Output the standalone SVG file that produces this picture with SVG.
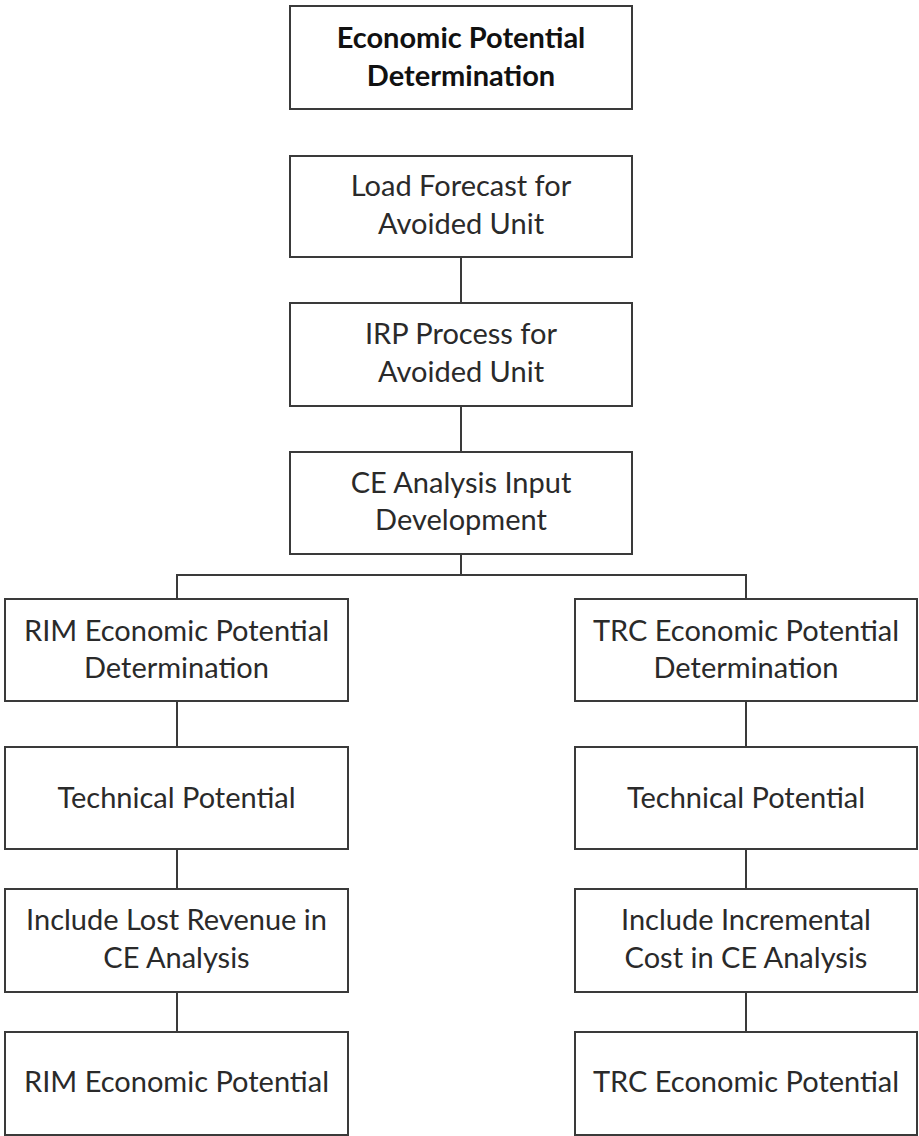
<svg xmlns="http://www.w3.org/2000/svg" width="919" height="1136" viewBox="0 0 919 1136">
  <style>
    .box { fill: #ffffff; stroke: #3a3a3a; stroke-width: 2; }
    .lbl { font-family: Lato, "Open Sans", "Liberation Sans", sans-serif; font-size: 29px; fill: #2a2a2a; text-anchor: middle; }
    .bold { font-weight: bold; font-size: 29px; fill: #111111; }
    .conn { fill: none; stroke: #3a3a3a; stroke-width: 2; }
  </style>
  <rect width="919" height="1136" fill="#ffffff"/>

  <g id="connectors">
    <line class="conn" x1="461" y1="257" x2="461" y2="303"/>
    <line class="conn" x1="461" y1="406" x2="461" y2="452"/>
    <line class="conn" x1="461" y1="554" x2="461" y2="575"/>
    <polyline class="conn" points="177,599 177,575 746,575 746,599"/>
    <line class="conn" x1="177" y1="701" x2="177" y2="747"/>
    <line class="conn" x1="177" y1="849" x2="177" y2="889"/>
    <line class="conn" x1="177" y1="992" x2="177" y2="1032"/>
    <line class="conn" x1="746" y1="701" x2="746" y2="747"/>
    <line class="conn" x1="746" y1="849" x2="746" y2="889"/>
    <line class="conn" x1="746" y1="992" x2="746" y2="1032"/>
  </g>

  <g id="title">
    <rect class="box" x="290" y="6" width="342" height="103"/>
    <text class="lbl bold" x="461" y="48">Economic Potential</text>
    <text class="lbl bold" x="461" y="86">Determination</text>
  </g>

  <g id="load-forecast">
    <rect class="box" x="290" y="156" width="342" height="101"/>
    <text class="lbl" x="461" y="196">Load Forecast for</text>
    <text class="lbl" x="461" y="234">Avoided Unit</text>
  </g>

  <g id="irp-process">
    <rect class="box" x="290" y="303" width="342" height="103"/>
    <text class="lbl" x="461" y="344">IRP Process for</text>
    <text class="lbl" x="461" y="382">Avoided Unit</text>
  </g>

  <g id="ce-input">
    <rect class="box" x="290" y="452" width="342" height="102"/>
    <text class="lbl" x="461" y="493">CE Analysis Input</text>
    <text class="lbl" x="461" y="530">Development</text>
  </g>

  <g id="rim-determination">
    <rect class="box" x="5" y="599" width="343" height="102"/>
    <text class="lbl" x="176.5" y="641">RIM Economic Potential</text>
    <text class="lbl" x="176.5" y="678">Determination</text>
  </g>

  <g id="trc-determination">
    <rect class="box" x="575" y="599" width="342" height="102"/>
    <text class="lbl" x="746" y="641">TRC Economic Potential</text>
    <text class="lbl" x="746" y="678">Determination</text>
  </g>

  <g id="rim-technical">
    <rect class="box" x="5" y="747" width="343" height="102"/>
    <text class="lbl" x="176.5" y="808">Technical Potential</text>
  </g>

  <g id="trc-technical">
    <rect class="box" x="575" y="747" width="342" height="102"/>
    <text class="lbl" x="746" y="808">Technical Potential</text>
  </g>

  <g id="rim-lost-revenue">
    <rect class="box" x="5" y="889" width="343" height="103"/>
    <text class="lbl" x="176.5" y="930">Include Lost Revenue in</text>
    <text class="lbl" x="176.5" y="968">CE Analysis</text>
  </g>

  <g id="trc-incremental-cost">
    <rect class="box" x="575" y="889" width="342" height="103"/>
    <text class="lbl" x="746" y="930">Include Incremental</text>
    <text class="lbl" x="746" y="968">Cost in CE Analysis</text>
  </g>

  <g id="rim-potential">
    <rect class="box" x="5" y="1032" width="343" height="103"/>
    <text class="lbl" x="176.5" y="1092">RIM Economic Potential</text>
  </g>

  <g id="trc-potential">
    <rect class="box" x="575" y="1032" width="342" height="103"/>
    <text class="lbl" x="746" y="1092">TRC Economic Potential</text>
  </g>
</svg>
